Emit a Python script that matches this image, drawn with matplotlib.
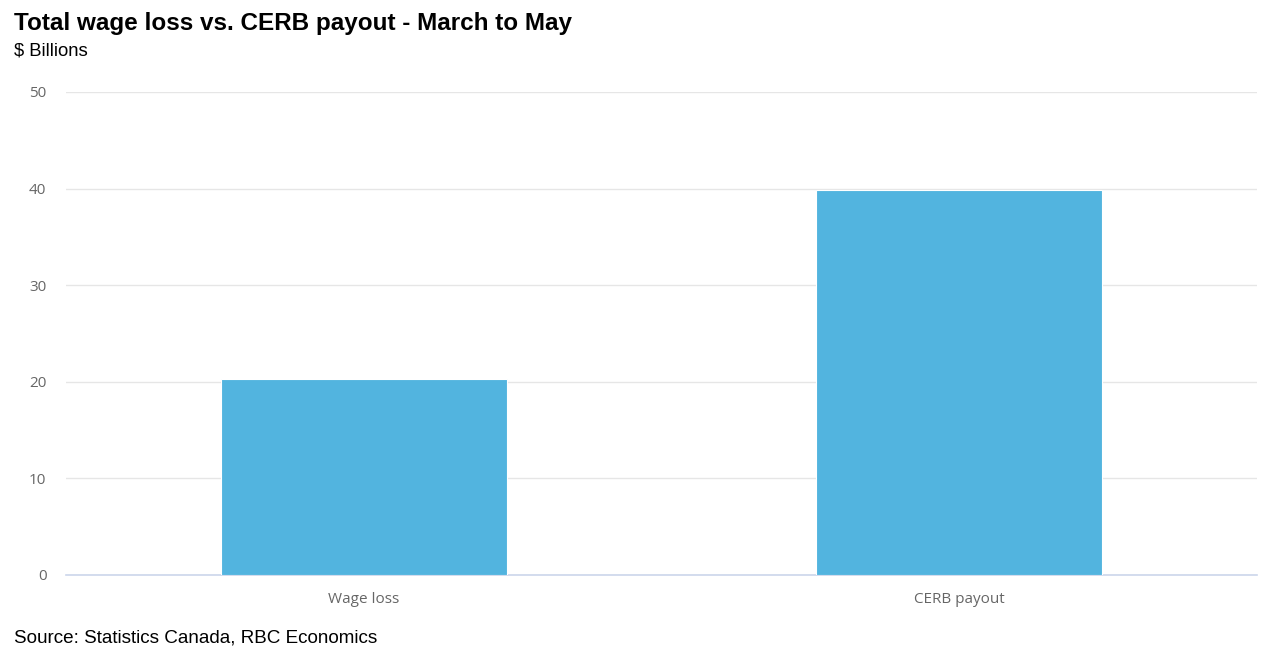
import matplotlib
matplotlib.use("Agg")
import matplotlib.pyplot as plt

categories = ["Wage loss", "CERB payout"]
values = [20.3, 39.9]
yticks = [0, 10, 20, 30, 40, 50]

bar_color = "#52b4df"
grid_color = "#e6e6e6"

fig = plt.figure(figsize=(12.73, 6.56), dpi=100)
ax = fig.add_axes([0.0518, 0.1235, 0.9356, 0.7363])

x = list(range(len(categories)))
ax.bar(x, values, width=0.48, color=bar_color, edgecolor="white", linewidth=0.8, zorder=3)

ax.set_xlim(-0.5, len(categories) - 0.5)
ax.set_ylim(0, 50)
ax.set_yticks(yticks)
ax.set_xticks(x)
ax.set_xticklabels(categories)

ax.grid(axis="y", color=grid_color, linewidth=1, zorder=0)
for side in ["top", "right", "left"]:
    ax.spines[side].set_visible(False)
ax.spines["bottom"].set_color("#ccd6eb")
ax.spines["bottom"].set_linewidth(1.2)

ax.tick_params(axis="both", length=0, labelsize=11, labelcolor="#666666")
ax.tick_params(axis="y", pad=14)
ax.tick_params(axis="x", pad=12)
for lab in ax.get_xticklabels() + ax.get_yticklabels():
    lab.set_fontfamily("Open Sans")

fig.text(0.011, 0.955, "Total wage loss vs. CERB payout - March to May",
         fontsize=17.5, fontweight="bold", family="Liberation Sans", va="baseline")
fig.text(0.011, 0.915, "$ Billions", fontsize=13.3, family="Liberation Sans", va="baseline")
fig.text(0.011, 0.020, "Source: Statistics Canada, RBC Economics",
         fontsize=13.6, family="Liberation Sans", va="baseline")

plt.savefig("out.png", dpi=100)
